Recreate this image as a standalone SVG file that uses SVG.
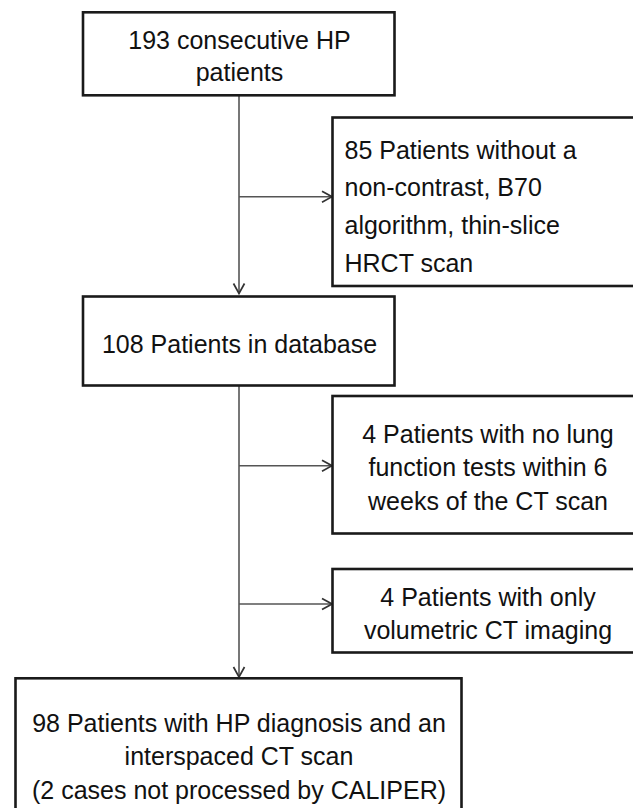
<svg xmlns="http://www.w3.org/2000/svg" width="633" height="808" viewBox="0 0 633 808">
<style>
.box{fill:#fff;stroke:#1a1a1a;stroke-width:2.6}
.t{font-family:"Liberation Sans",Arial,sans-serif;font-size:25px;fill:#111}
.c{text-anchor:middle}
.ln{fill:none;stroke:#555;stroke-width:1.6}
</style>
<defs>
<marker id="ah" viewBox="0 0 12 14" refX="11" refY="7" markerWidth="12" markerHeight="14" markerUnits="userSpaceOnUse" orient="auto">
<path d="M1,1.5 L11,7 L1,12.5" fill="none" stroke="#333" stroke-width="1.7"/>
</marker>
</defs>
<rect width="633" height="808" fill="#fff"/>
<g id="connectors">
<line class="ln" x1="239" y1="96" x2="239" y2="293.5" marker-end="url(#ah)"/>
<line class="ln" x1="239" y1="196.7" x2="332" y2="196.7" marker-end="url(#ah)"/>
<line class="ln" x1="239" y1="386" x2="239" y2="677" marker-end="url(#ah)"/>
<line class="ln" x1="239" y1="465.7" x2="332" y2="465.7" marker-end="url(#ah)"/>
<line class="ln" x1="239" y1="604" x2="332" y2="604" marker-end="url(#ah)"/>
</g>
<g id="n1">
<rect class="box" x="83" y="12.3" width="311.5" height="83"/>
<text class="t c" x="239.5" y="49.3">193 consecutive HP</text>
<text class="t c" x="239.5" y="80.5">patients</text>
</g>
<g id="n2">
<rect class="box" x="332.5" y="117.5" width="310" height="168.5"/>
<text class="t" x="344.5" y="158.5">85 Patients without a</text>
<text class="t" x="344.5" y="195.5">non-contrast, B70</text>
<text class="t" x="344.5" y="233.5">algorithm, thin-slice</text>
<text class="t" x="344.5" y="271.7">HRCT scan</text>
</g>
<g id="n3">
<rect class="box" x="83" y="296.5" width="311.5" height="89"/>
<text class="t c" x="239.5" y="352.7">108 Patients in database</text>
</g>
<g id="n4">
<rect class="box" x="332.5" y="396" width="310" height="137.5"/>
<text class="t c" x="488" y="443.3">4 Patients with no lung</text>
<text class="t c" x="488" y="476">function tests within 6</text>
<text class="t c" x="488" y="510">weeks of the CT scan</text>
</g>
<g id="n5">
<rect class="box" x="332.5" y="569" width="310" height="83.5"/>
<text class="t c" x="488" y="606">4 Patients with only</text>
<text class="t c" x="488" y="638.5">volumetric CT imaging</text>
</g>
<g id="n6">
<rect class="box" x="15.5" y="678.3" width="446" height="140"/>
<text class="t c" x="239" y="732.3">98 Patients with HP diagnosis and an</text>
<text class="t c" x="239" y="765">interspaced CT scan</text>
<text class="t c" x="239" y="799.3">(2 cases not processed by CALIPER)</text>
</g>
</svg>
